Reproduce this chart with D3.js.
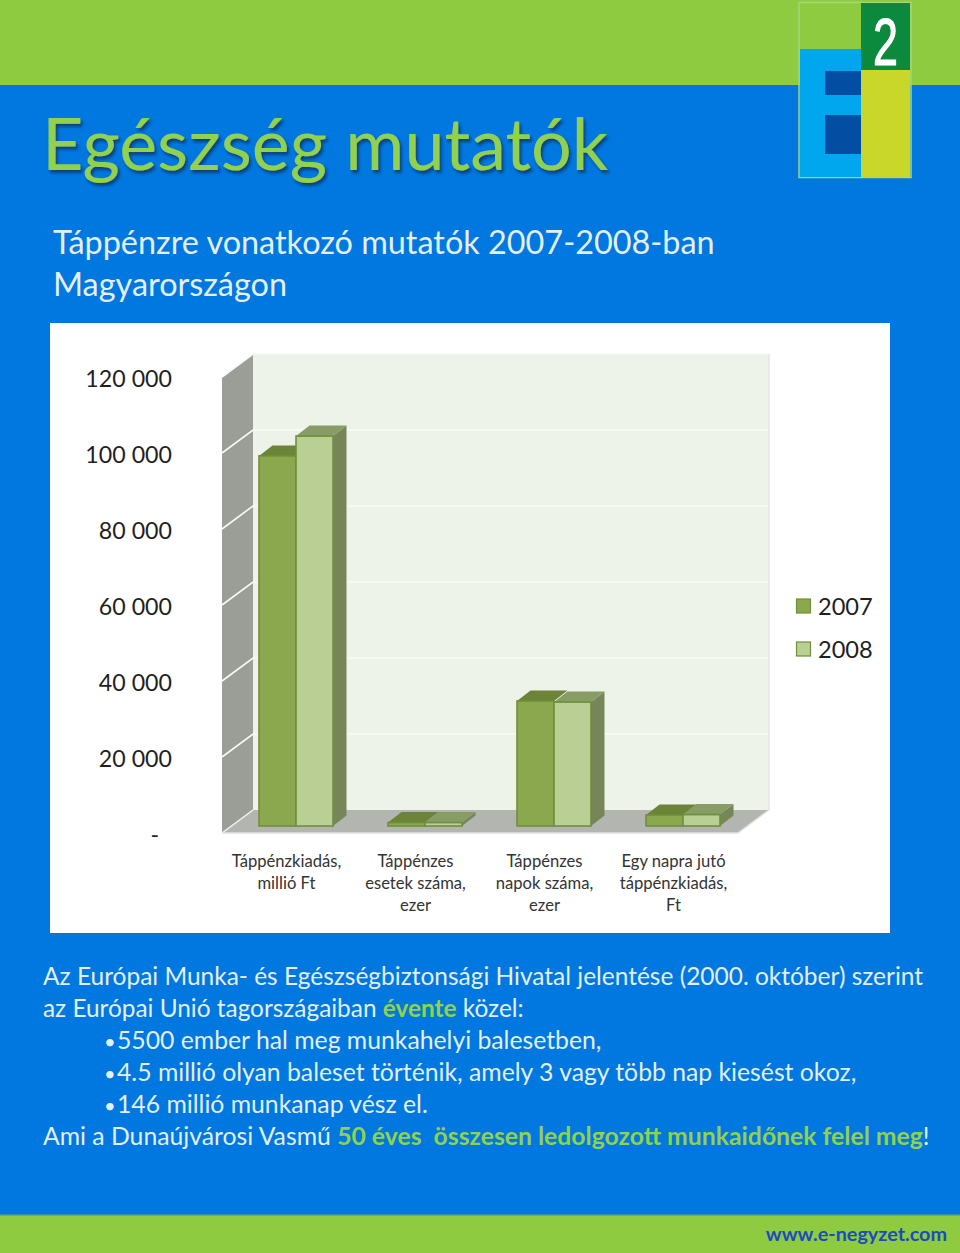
<!DOCTYPE html>
<html><head><meta charset="utf-8">
<script src="https://cdn.jsdelivr.net/npm/d3@7/dist/d3.min.js"></script>
<style>
html,body{margin:0;padding:0;background:#0078e0}
svg{display:block}
text{font-family:Lato,"Open Sans",sans-serif}
</style></head><body><div id="c"></div>
<script>
const categories=[["Táppénzkiadás,","millió Ft"],["Táppénzes","esetek száma,","ezer"],["Táppénzes","napok száma,","ezer"],["Egy napra jutó","táppénzkiadás,","Ft"]];
const series2007=[97400,900,32900,2900];
const series2008=[102600,900,32600,3000];
const seriesNames=["2007","2008"];
const yTicks=[0,20000,40000,60000,80000,100000,120000];
const yTickLabels=["-","20 000","40 000","60 000","80 000","100 000","120 000"];
const titleText="Egészség mutatók";
const subtitleLines=["Táppénzre vonatkozó mutatók 2007-2008-ban","Magyarországon"];
const bodyLines=[
 [["Az Európai Munka- és Egészségbiztonsági Hivatal jelentése (2000. október) szerint",0]],
 [["az Európai Unió tagországaiban ",0],["évente",1],[" közel:",0]],
 [["5500 ember hal meg munkahelyi balesetben,",0]],
 [["4.5 millió olyan baleset történik, amely 3 vagy több nap kiesést okoz,",0]],
 [["146 millió munkanap vész el.",0]],
 [["Ami a Dunaújvárosi Vasmű ",0],["50 éves  összesen ledolgozott munkaidőnek felel meg",1],["!",0]]
];
const bulleted=[false,false,true,true,true,false];
const footer="www.e-negyzet.com";

const W=960,H=1253;
const svg=d3.select("#c").append("svg").attr("width",W).attr("height",H);
const defs=svg.append("defs");
const f=defs.append("filter").attr("id","sh").attr("x","-5%").attr("y","-5%").attr("width","110%").attr("height","120%");
f.append("feDropShadow").attr("dx",2).attr("dy",3).attr("stdDeviation",1.8).attr("flood-color","#0a2f5c").attr("flood-opacity",.75);

const rect=(x,y,w,h,c)=>svg.append("rect").attr("x",x).attr("y",y).attr("width",w).attr("height",h).attr("fill",c);
rect(0,0,W,H,"#0078e0");
rect(0,0,W,85,"#8ecb41");
rect(0,1215,W,38,"#8ecb41");

// logo
svg.append("rect").attr("x",799).attr("y",2.5).attr("width",112).attr("height",175).attr("fill","none").attr("stroke","#a5d57e").attr("stroke-width",1.5);
rect(800,49,61,128,"#00a7ee");
rect(861,3,49,67,"#0b8a3e");
rect(861,70,49,107,"#c9d72b");
rect(825,71,36,24,"#034ea2");
rect(825,115,36,39,"#034ea2");
svg.append("text").attr("transform","translate(885.5,64.5) scale(0.68,1)").attr("text-anchor","middle").attr("fill","#fff").attr("stroke","#fff").attr("stroke-width",1.2).attr("font-size",66).style("font-family","'Liberation Sans'").text("2");

// titles
svg.append("text").attr("x",42).attr("y",170).attr("font-size",71.8).attr("fill","#92d050").attr("filter","url(#sh)").text(titleText);
svg.selectAll(".sub").data(subtitleLines).join("text").attr("x",53).attr("y",(d,i)=>254+i*42).attr("font-size",32.4).attr("fill","#e3effb").text(d=>d);

// panel
rect(50,323,840,610,"#ffffff");

const y=d3.scaleLinear().domain([0,120000]).range([833,377]);
const wallDx=31,wallDy=-23;
const x=d3.scaleBand().domain(d3.range(categories.length)).range([222,738]);
const poly=(pts,fill,stroke,sw)=>svg.append("polygon").attr("points",pts.map(p=>p.join(",")).join(" ")).attr("fill",fill).attr("stroke",stroke||"none").attr("stroke-width",sw||0);
const [x0,x1]=x.range();
poly([[x0+wallDx,y(120000)+wallDy-1],[x1+wallDx,y(120000)+wallDy-1],[x1+wallDx,y(0)+wallDy],[x0+wallDx,y(0)+wallDy]],"#eef3ea");
poly([[x0,y(120000)],[x0+wallDx,y(120000)+wallDy],[x0+wallDx,y(0)+wallDy],[x0,y(0)]],"#9b9d97");
poly([[x0,y(0)],[x0+wallDx,y(0)+wallDy],[x1+wallDx,y(0)+wallDy],[x1,y(0)]],"#b3b5b0");
yTicks.forEach(t=>{
  const yy=y(t);
  svg.append("path").attr("d",`M${x0},${yy}L${x0+wallDx},${yy+wallDy}`+(t?`L${x1+wallDx},${yy+wallDy}`:"")).attr("fill","none").attr("stroke",t?"#f8faf6":"#f4f5f2").attr("stroke-width",t?1.6:1.5);
});
svg.append("path").attr("d",`M${x0},${y(0)}L${x1},${y(0)}L${x1+wallDx},${y(0)+wallDy}L${x1+wallDx},${y(120000)+wallDy}`).attr("fill","none").attr("stroke","#e2e4df").attr("stroke-width",1.4);

const axisG=svg.append("g").attr("transform","translate(172,1)").call(d3.axisLeft(y).tickValues(yTicks).tickSize(0).tickPadding(0).tickFormat((d,i)=>yTickLabels[i]));
axisG.select(".domain").remove();
axisG.selectAll("text").attr("font-size",23.2).attr("fill","#1f1f1f").attr("dy","0.36em").attr("dx",d=>d===0?-13:0).style("font-family","Lato");

// bars
const barW=37,barDx=13.5,barDy=-10.5;
const barOffsetX=37,barBaseUp=7;
const colors=[{front:"#8ca84e",top:"#6b8437",side:"#5f7a30"},{front:"#b9cf94",top:"#889d66",side:"#768659"}];
const stroke="#6f8f3a";
[series2007,series2008].forEach((vals,si)=>{
  vals.forEach((v,i)=>{
    const bx=x(i)+barOffsetX+si*barW;
    const by=y(0)-barBaseUp;
    const ty=y(v)-barBaseUp;
    const c=colors[si];
    if(si===1) poly([[bx+barW,by],[bx+barW+barDx,by+barDy],[bx+barW+barDx,ty+barDy],[bx+barW,ty]],c.side);
    poly([[bx,ty],[bx+barDx,ty+barDy],[bx+barW+barDx,ty+barDy],[bx+barW,ty]],c.top);
    svg.append("rect").attr("x",bx).attr("y",ty).attr("width",barW).attr("height",by-ty).attr("fill",c.front).attr("stroke",stroke).attr("stroke-width",1.6);
  });
});

categories.forEach((lines,i)=>{
  svg.append("text").attr("text-anchor","middle").attr("font-size",16.6).attr("fill","#333")
   .selectAll("tspan").data(lines).join("tspan").attr("x",x(i)+x.bandwidth()/2).attr("y",(d,j)=>867+j*22).text(d=>d);
});

seriesNames.forEach((n,i)=>{
  const yy=599+i*43;
  svg.append("rect").attr("x",796.5).attr("y",yy).attr("width",14).attr("height",14).attr("fill",colors[i].front).attr("stroke",stroke).attr("stroke-width",1.2);
  svg.append("text").attr("x",818).attr("y",yy+16).attr("font-size",23.6).attr("fill","#1f1f1f").text(n);
});

bodyLines.forEach((ln,i)=>{
  const yy=985+i*32;
  if(bulleted[i]) svg.append("text").attr("x",104).attr("y",yy).attr("font-size",20).attr("fill","#e3effb").text("•");
  const t=svg.append("text").attr("x",bulleted[i]?117:43).attr("y",yy).attr("font-size",i===0?24.47:i===1?24.4:24.75).attr("fill","#e3effb");
  ln.forEach(([s,g])=>t.append("tspan").style("white-space","pre").attr("fill",g?"#92d050":"#e3effb").attr("font-weight",g?700:400).text(s));
});

rect(0,1214,W,1.5,"#3d8f9a");
svg.append("text").attr("x",947).attr("y",1241).attr("text-anchor","end").attr("font-size",19.8).attr("font-weight",700).attr("fill","#1a4bc0").text(footer);
</script></body></html>
